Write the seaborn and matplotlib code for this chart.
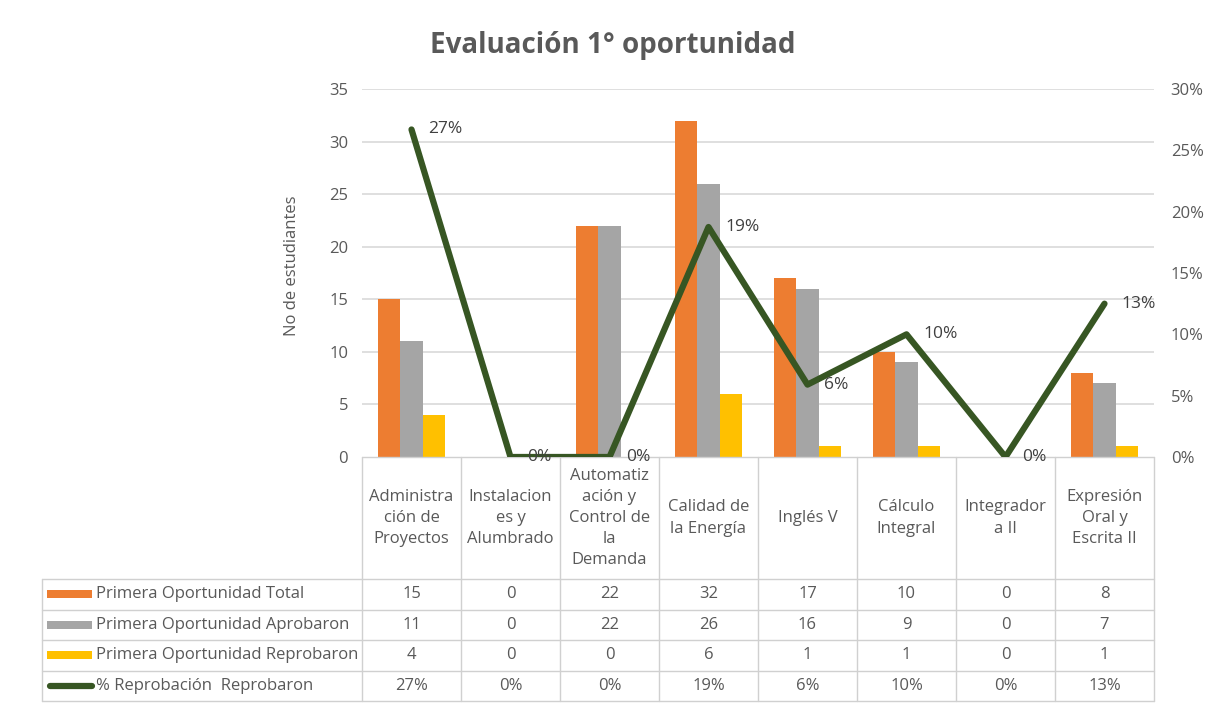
"""
Evaluación 1° oportunidad – barras por asignatura con % de reprobación
"""
import numpy as np
import pandas as pd
import matplotlib.pyplot as plt
import seaborn as sns


# -----------------------------
# Datos
# -----------------------------

cursos = ["Administración de Proyectos", "Instalaciones y Alumbrado",
          "Automatización y Control de la Demanda", "Calidad de la Energía",
          "Inglés V", "Cálculo Integral", "Integradora II",
          "Expresión Oral y Escrita II"]

encabezados = ["Administra\nción de\nProyectos", "Instalacion\nes y\nAlumbrado",
               "Automatiz\nación y\nControl de\nla\nDemanda", "Calidad de\nla Energía",
               "Inglés V", "Cálculo\nIntegral", "Integrador\na II",
               "Expresión\nOral y\nEscrita II"]

total = [15, 0, 22, 32, 17, 10, 0, 8]
aprobaron = [11, 0, 22, 26, 16, 9, 0, 7]
reprobaron = [4, 0, 0, 6, 1, 1, 0, 1]
pct_reprob = [0.267, 0.0, 0.0, 0.1875, 0.059, 0.10, 0.0, 0.125]
pct_etiquetas = ["27%", "0%", "0%", "19%", "6%", "10%", "0%", "13%"]

series = ["Primera Oportunidad Total", "Primera Oportunidad Aprobaron",
          "Primera Oportunidad Reprobaron"]
serie_linea = "% Reprobación  Reprobaron"

colores = ["#ED7D31", "#A5A5A5", "#FFC000"]
verde = "#375623"
gris_txt = "#595959"
gris_linea = "#D9D9D9"


def make_plot():

    sns.set_theme(style="white")
    plt.rcParams["font.family"] = ["Open Sans", "DejaVu Sans"]

    df = pd.DataFrame({
        "curso": cursos * 3,
        "serie": np.repeat(series, len(cursos)),
        "valor": total + aprobaron + reprobaron,
    })

    fig = plt.figure(figsize=(12.09, 7.08), dpi=100)
    ax = fig.add_axes([362 / 1209, 1 - 457 / 708, 792 / 1209, 368 / 708])

    sns.barplot(data=df, x="curso", y="valor", hue="serie", order=cursos,
                hue_order=series, palette=colores, width=0.68, saturation=1,
                legend=False, linewidth=0, edgecolor="none", ax=ax)

    ax.set_ylim(0, 35)
    ax.set_yticks(range(0, 36, 5))
    ax.set_xticks([])
    ax.set_xlabel("")
    ax.set_ylabel("No de estudiantes", fontsize=12, color=gris_txt)
    ax.yaxis.set_label_coords(-0.078, 0.52)
    ax.tick_params(axis="y", length=0, pad=10, labelsize=12, labelcolor=gris_txt)
    for y in range(5, 36, 5):
        ax.axhline(y, color=gris_linea, lw=1.2, zorder=0)
    for s in ax.spines.values():
        s.set_visible(False)

    # linea de % de reprobacion en eje secundario
    ax2 = ax.twinx()
    sns.lineplot(x=np.arange(len(cursos)), y=pct_reprob, color=verde,
                 linewidth=4.5, ax=ax2)
    ax2.set_ylim(0, 0.30)
    ax2.set_yticks(np.arange(0, 0.31, 0.05))
    ax2.set_yticklabels([f"{int(round(v * 100))}%" for v in np.arange(0, 0.31, 0.05)])
    ax2.tick_params(axis="y", length=0, pad=12, labelsize=12, labelcolor=gris_txt)
    for s in ax2.spines.values():
        s.set_visible(False)
    ax2.grid(False)

    for i, (p, lbl) in enumerate(zip(pct_reprob, pct_etiquetas)):
        ax2.annotate(lbl, (i, p), xytext=(12, 0), textcoords="offset points",
                     va="center", ha="left", fontsize=12.5, color="#404040")

    ax.set_xlim(-0.5, len(cursos) - 0.5)

    # -----------------------------
    # Tabla de datos bajo el grafico
    # -----------------------------
    tr = ax.get_xaxis_transform()
    def fy(px):
        return (457 - px) / 368

    x_izq = -0.5 - 320 / 99
    filas = [579, 609.5, 640, 670.5, 701]
    n = len(cursos)
    kw = dict(color="#D0D0D0", lw=1.0, transform=tr, clip_on=False)

    ax.plot([-0.5, n - 0.5], [fy(457), fy(457)], **kw)
    for yb in filas:
        ax.plot([x_izq, n - 0.5], [fy(yb), fy(yb)], **kw)
    for k in range(n + 1):
        ax.plot([k - 0.5, k - 0.5], [fy(457), fy(701)], **kw)
    ax.plot([x_izq, x_izq], [fy(579), fy(701)], **kw)

    for i, txt in enumerate(encabezados):
        ax.text(i, fy(518), txt, transform=tr, ha="center", va="center",
                fontsize=12, color=gris_txt, linespacing=1.42, clip_on=False)

    valores = [total, aprobaron, reprobaron, pct_etiquetas]
    nombres = series + [serie_linea]
    for r, (nombre, fila) in enumerate(zip(nombres, valores)):
        yc = fy((filas[r] + filas[r + 1]) / 2)
        for i, v in enumerate(fila):
            ax.text(i, yc, str(v), transform=tr, ha="center", va="center",
                    fontsize=12, color=gris_txt, clip_on=False)
        ax.text(x_izq + 54 / 99, yc, nombre, transform=tr, ha="left",
                va="center", fontsize=12, color=gris_txt, clip_on=False)
        if r < 3:
            ax.add_patch(plt.Rectangle((x_izq + 5 / 99, yc - 0.011), 45 / 99, 0.022,
                                       transform=tr, color=colores[r],
                                       clip_on=False, lw=0))
        else:
            ax.plot([x_izq + 8 / 99, x_izq + 50 / 99], [yc, yc], transform=tr,
                    color=verde, lw=4.5, solid_capstyle="round", clip_on=False)

    fig.text(0.507, 1 - 45 / 708, "Evaluación 1° oportunidad", ha="center",
             va="center", fontsize=20, fontweight="bold", color=gris_txt)

    fig.savefig("out.png", dpi=100)


def main():

    make_plot()


if __name__ == "__main__":
    main()
